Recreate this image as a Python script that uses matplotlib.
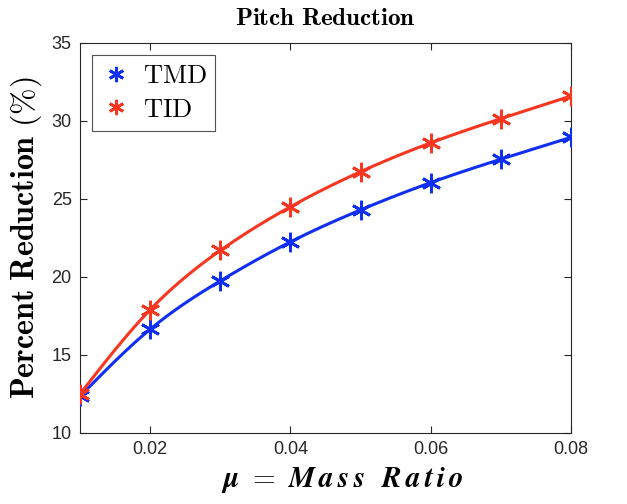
import numpy as np
import matplotlib
matplotlib.use("Agg")
import matplotlib.pyplot as plt

mass_ratio = [0.01, 0.02, 0.03, 0.04, 0.05, 0.06, 0.07, 0.08]
tmd = [12.35, 16.65, 19.75, 22.25, 24.3, 26.05, 27.55, 28.95]
tid = [12.5, 17.9, 21.7, 24.5, 26.75, 28.6, 30.15, 31.6]
series_names = ["TMD", "TID"]
xticks = [0.02, 0.04, 0.06, 0.08]
yticks = [10, 15, 20, 25, 30, 35]

plt.rcParams['mathtext.fontset'] = 'cm'


def natural_spline(x, y, n=300):
    x = np.asarray(x, float)
    y = np.asarray(y, float)
    k = len(x)
    h = np.diff(x)
    A = np.zeros((k, k))
    b = np.zeros(k)
    A[0, 0] = 1
    A[-1, -1] = 1
    for i in range(1, k - 1):
        A[i, i - 1] = h[i - 1]
        A[i, i] = 2 * (h[i - 1] + h[i])
        A[i, i + 1] = h[i]
        b[i] = 3 * ((y[i + 1] - y[i]) / h[i] - (y[i] - y[i - 1]) / h[i - 1])
    c = np.linalg.solve(A, b)
    xs = np.linspace(x[0], x[-1], n)
    ys = np.empty_like(xs)
    for j, xv in enumerate(xs):
        i = min(np.searchsorted(x, xv, side='right') - 1, k - 2)
        dx = xv - x[i]
        bi = (y[i + 1] - y[i]) / h[i] - h[i] * (2 * c[i] + c[i + 1]) / 3
        di = (c[i + 1] - c[i]) / (3 * h[i])
        ys[j] = y[i] + bi * dx + c[i] * dx ** 2 + di * dx ** 3
    return xs, ys


fig = plt.figure(figsize=(6.27, 5.04), dpi=100)
ax = fig.add_axes([0.1276, 0.1409, 0.7831, 0.7738])

colors = ['#0f2ff5', '#fa3520']
marker = (6, 2, 0)
for vals, name, col in zip([tmd, tid], series_names, colors):
    xs, ys = natural_spline(mass_ratio, vals)
    ax.plot(xs, ys, color=col, lw=2.2, zorder=2)
    ax.plot(mass_ratio, vals, linestyle='none', marker=marker, markersize=14,
            markeredgewidth=2.0, color=col, zorder=3)
    ax.plot([], [], linestyle='none', marker=marker, markersize=11,
            markeredgewidth=2.0, color=col, label=r'$\mathrm{%s}$' % name)

ax.set_xlim(0.01, 0.08)
ax.set_ylim(10, 35)
ax.set_xticks(xticks)
ax.set_xticklabels(['%.2f' % v for v in xticks])
ax.set_yticks(yticks)
ax.tick_params(direction='in', top=True, right=True, length=5, width=0.8,
               colors='#262626', labelsize=13, pad=6)
for lab in ax.get_xticklabels() + ax.get_yticklabels():
    lab.set_family('Liberation Sans')
for sp in ax.spines.values():
    sp.set_color('#262626')
    sp.set_linewidth(0.8)

ax.set_title(r'$\mathbf{Pitch\ Reduction}$', fontsize=18, pad=13)
ax.set_ylabel(r'$\mathbf{Percent\ Reduction\ (\%)}$', fontsize=23)
ax.yaxis.set_label_coords(-0.074, 0.5)
ax.set_xlabel(r'$\boldsymbol{\mu\ =\ M\,a\,s\,s\ \ R\,a\,t\,i\,o}$', fontsize=21)
ax.xaxis.set_label_coords(0.534, -0.083)

leg = ax.legend(loc='upper left', fontsize=19, frameon=True, fancybox=False,
                edgecolor='#262626', borderaxespad=0.45, handletextpad=0.45,
                labelspacing=0.3, handlelength=1.2, borderpad=0.3)
leg.get_frame().set_linewidth(0.8)

fig.savefig('out.png', dpi=100)
